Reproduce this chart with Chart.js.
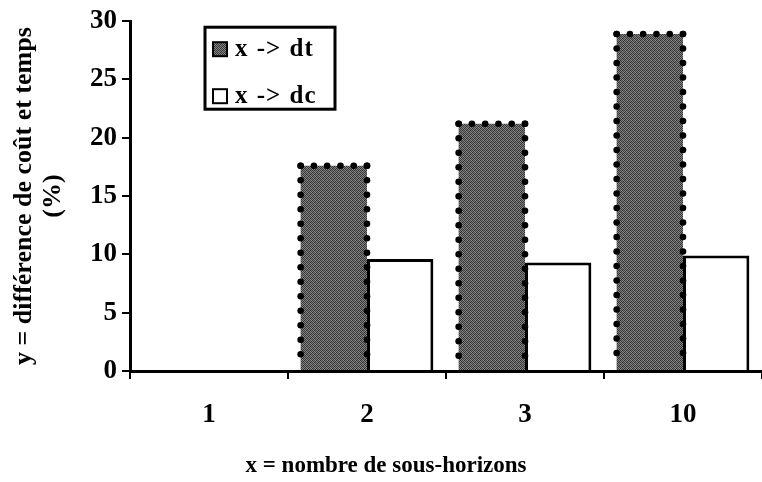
<!DOCTYPE html>
<html>
<head>
    <meta charset='utf-8'>
    <title>Différence de coût et temps</title>
    <script src="https://cdn.jsdelivr.net/npm/chart.js@4.4.1/dist/chart.umd.min.js"></script>
    <style>
        body { margin: 0; background: #fff; }
        #wrap { width: 762px; height: 482px; }
    </style>
</head>
<body>
    <div id="wrap"><canvas id="myChart"></canvas></div>
    <script>
        // donnees
        const categories = ['1', '2', '3', '10'];
        const dtValues = [0, 17.6, 21.2, 28.9];
        const dcValues = [0, 9.6, 9.3, 9.9];
        const seriesLabels = ['x -> dt', 'x -> dc'];
        const yTicks = [0, 5, 10, 15, 20, 25, 30];

        const serif = '"Liberation Serif", "DejaVu Serif", serif';

        // motif gris pointille pour la serie dt
        function stipple() {
            const c = document.createElement('canvas');
            c.width = 4; c.height = 4;
            const g = c.getContext('2d');
            const px = [
                '#2e2e2e', '#7a7a7a', '#444444', '#888888',
                '#8a8a8a', '#383838', '#7f7f7f', '#333333',
                '#3e3e3e', '#858585', '#2c2c2c', '#777777',
                '#7c7c7c', '#363636', '#8a8a8a', '#414141'
            ];
            px.forEach((col, i) => {
                g.fillStyle = col;
                g.fillRect(i % 4, Math.floor(i / 4), 1, 1);
            });
            return g.createPattern(c, 'repeat');
        }

        const ctx = document.getElementById('myChart').getContext('2d');
        const dtFill = stipple();

        // bordure en pointilles (points ronds) autour des barres dt
        const dottedBorder = {
            id: 'dottedBorder',
            afterDatasetsDraw(chart) {
                const meta = chart.getDatasetMeta(0);
                const c = chart.ctx;
                c.save();
                c.fillStyle = '#000';
                meta.data.forEach(bar => {
                    const p = bar.getProps(['x', 'y', 'base', 'width'], true);
                    if (p.base - p.y < 2) return;
                    const l = p.x - p.width / 2, r = p.x + p.width / 2;
                    const step = 14.5;
                    const dot = (x, y) => { c.beginPath(); c.arc(x, y, 3.3, 0, Math.PI * 2); c.fill(); };
                    for (let y = p.y; y <= p.base - 4; y += step) { dot(l, y); dot(r, y); }
                    const n = Math.round((r - l) / 14);
                    for (let i = 0; i <= n; i++) dot(l + (r - l) * i / n, p.y);
                });
                c.restore();
            }
        };

        // legende encadree dans la zone du graphique
        const boxLegend = {
            id: 'boxLegend',
            afterDraw(chart) {
                const a = chart.chartArea;
                const c = chart.ctx;
                const x0 = a.left + 75, y0 = a.top + 6, w = 130, h = 82;
                c.save();
                c.lineWidth = 3;
                c.strokeStyle = '#000';
                c.strokeRect(x0, y0, w, h);
                c.font = 'bold 25px ' + serif;
                c.letterSpacing = '1px';
                c.wordSpacing = '1px';
                c.textBaseline = 'middle';
                chart.data.datasets.forEach((ds, i) => {
                    const cy = y0 + 22 + i * 47;
                    c.fillStyle = ds.backgroundColor;
                    c.fillRect(x0 + 8, cy - 7, 14, 14);
                    c.lineWidth = 2;
                    c.strokeRect(x0 + 8, cy - 7, 14, 14);
                    c.fillStyle = '#000';
                    c.fillText(ds.label, x0 + 30, cy);
                });
                c.restore();
            }
        };

        new Chart(ctx, {
            type: 'bar',
            data: {
                labels: categories,
                datasets: [{
                    label: seriesLabels[0],
                    data: dtValues,
                    backgroundColor: dtFill,
                    borderWidth: 0
                }, {
                    label: seriesLabels[1],
                    data: dcValues,
                    backgroundColor: '#ffffff',
                    borderColor: '#000000',
                    borderWidth: 3
                }]
            },
            options: {
                responsive: true,
                maintainAspectRatio: false,
                animation: false,
                layout: { padding: { top: 8, right: 0, left: 10, bottom: 0 } },
                datasets: { bar: { categoryPercentage: 0.84, barPercentage: 1.0 } },
                scales: {
                    x: {
                        grid: { drawOnChartArea: false, drawTicks: true, tickLength: 8, color: '#000', lineWidth: 2, offset: true },
                        border: { color: '#000', width: 3 },
                        ticks: { color: '#000', padding: 20, font: { family: serif, size: 27, weight: 'bold' } }
                    },
                    y: {
                        min: 0,
                        max: 30,
                        afterBuildTicks: s => { s.ticks = yTicks.map(v => ({ value: v })); },
                        afterFit: s => { s.width = 120; },
                        grid: { drawOnChartArea: false, drawTicks: true, tickLength: 8, color: '#000', lineWidth: 2 },
                        border: { color: '#000', width: 3 },
                        ticks: { color: '#000', padding: 5, font: { family: serif, size: 27, weight: 'bold' } },
                        title: {
                            display: true,
                            text: ['y = différence de coût et temps', '(%)'],
                            color: '#000',
                            padding: 0,
                            font: { family: serif, size: 26, weight: 'bold', lineHeight: 1.1 }
                        }
                    }
                },
                plugins: {
                    legend: { display: false },
                    tooltip: { enabled: false },
                    title: {
                        display: true,
                        position: 'bottom',
                        text: 'x = nombre de sous-horizons',
                        color: '#000',
                        padding: { top: 1, bottom: 2 },
                        font: { family: serif, size: 23, weight: 'bold' }
                    }
                }
            },
            plugins: [dottedBorder, boxLegend]
        });
    </script>
</body>
</html>
